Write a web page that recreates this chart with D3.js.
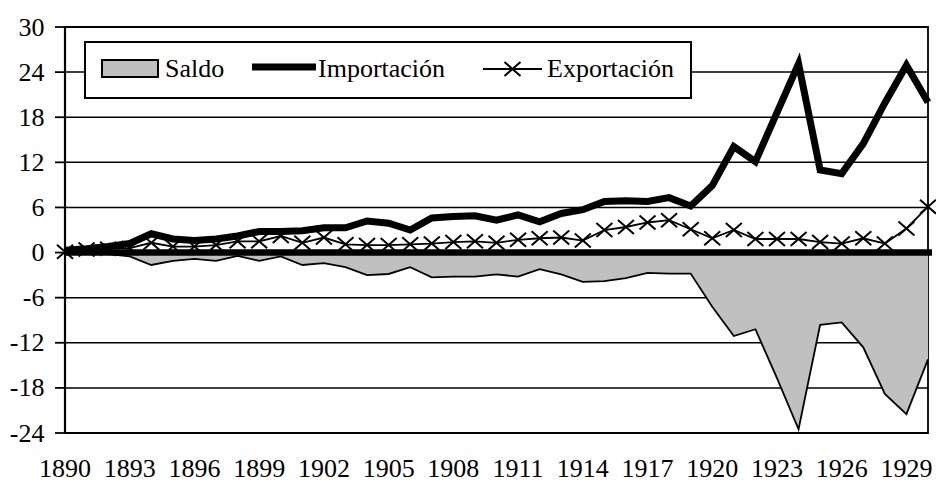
<!DOCTYPE html>
<html>
<head>
<meta charset="utf-8">
<script src="https://cdn.jsdelivr.net/npm/d3@7"></script>
<style>
  html, body { margin: 0; padding: 0; background: #ffffff; }
  svg { display: block; }
  text { font-family: "Liberation Serif", "Times New Roman", serif; fill: #000; }
</style>
</head>
<body>
<svg id="chart" width="936" height="483"></svg>
<script>
// ---- data ----
const years = d3.range(1890, 1931);
const importacion = [0.3, 0.5, 0.8, 1.2, 2.5, 1.8, 1.6, 1.8, 2.2, 2.8,
                     2.8, 2.9, 3.3, 3.3, 4.2, 3.9, 3.0, 4.6, 4.8, 4.9,
                     4.3, 5.0, 4.1, 5.2, 5.7, 6.8, 6.9, 6.8, 7.3, 6.2,
                     8.9, 14.1, 12.1, 18.6, 25.1, 11.0, 10.5, 14.5, 19.9, 24.9,
                     20.0];
const exportacion = [0.1, 0.4, 0.5, 0.6, 1.3, 0.8, 0.8, 1.0, 1.5, 1.5,
                     2.2, 1.3, 2.0, 1.1, 1.0, 1.0, 1.1, 1.2, 1.4, 1.5,
                     1.3, 1.7, 1.9, 2.0, 1.6, 3.0, 3.4, 4.0, 4.3, 3.1,
                     1.9, 3.0, 1.8, 1.8, 1.8, 1.4, 1.2, 1.9, 1.2, 3.2,
                     6.1];
const saldo = [-0.1, -0.2, -0.2, -0.5, -1.65, -1.1, -0.85, -1.1, -0.45, -1.1,
               -0.5, -1.65, -1.4, -1.95, -3.0, -2.85, -1.95, -3.3, -3.2, -3.2,
               -2.9, -3.2, -2.2, -2.9, -3.9, -3.8, -3.4, -2.7, -2.8, -2.8,
               -7.2, -11.1, -10.2, -16.7, -23.5, -9.6, -9.3, -12.6, -18.8, -21.5,
               -14.2];
const yTicks = [30, 24, 18, 12, 6, 0, -6, -12, -18, -24];
const xTickYears = [1890, 1893, 1896, 1899, 1902, 1905, 1908, 1911, 1914, 1917, 1920, 1923, 1926, 1929];
const seriesNames = ["Saldo", "Importación", "Exportación"];

// ---- layout ----
const svg = d3.select("#chart");
const pLeft = 65, pRight = 928, pTop = 27, pBottom = 433;
const x = d3.scaleLinear().domain([1890, 1930]).range([pLeft, pRight]);
const y = d3.scaleLinear().domain([-24, 30]).range([pBottom, pTop]);
const FS = 26;

// gridlines
svg.append("g").selectAll("line")
  .data(yTicks.filter(v => v !== 0 && v !== 30 && v !== -24))
  .join("line")
  .attr("x1", pLeft).attr("x2", pRight)
  .attr("y1", d => y(d)).attr("y2", d => y(d))
  .attr("stroke", "#000").attr("stroke-width", 1.5);

// plot border (top, right, bottom)
svg.append("path")
  .attr("d", `M${pLeft},${y(30)}H${pRight}V${y(-24)}H${pLeft}`)
  .attr("fill", "none").attr("stroke", "#000").attr("stroke-width", 1.8);

// saldo area
const idx = d3.range(years.length);
const area = d3.area()
  .x(i => x(years[i])).y0(y(0)).y1(i => y(saldo[i]));
svg.append("path").datum(idx)
  .attr("d", area).attr("fill", "#c0c0c0").attr("stroke", "none");
const saldoLine = d3.line().x(i => x(years[i])).y(i => y(saldo[i]));
svg.append("path").datum(idx)
  .attr("d", saldoLine).attr("fill", "none")
  .attr("stroke", "#000").attr("stroke-width", 1.8).attr("stroke-linejoin", "miter");

// thick zero line
svg.append("line")
  .attr("x1", pLeft).attr("x2", pRight + 4)
  .attr("y1", y(0)).attr("y2", y(0))
  .attr("stroke", "#000").attr("stroke-width", 6.5);

// y axis
const yAxis = svg.append("g");
yAxis.append("line")
  .attr("x1", pLeft).attr("x2", pLeft).attr("y1", y(30)).attr("y2", y(-24))
  .attr("stroke", "#000").attr("stroke-width", 2.2);
yAxis.selectAll("line.tick").data(yTicks).join("line").attr("class", "tick")
  .attr("x1", pLeft - 10).attr("x2", pLeft)
  .attr("y1", d => y(d)).attr("y2", d => y(d))
  .attr("stroke", "#000").attr("stroke-width", 1.8);
yAxis.selectAll("text").data(yTicks).join("text")
  .attr("x", 44.5).attr("y", d => y(d) + 8.5)
  .attr("text-anchor", "end").attr("font-size", FS)
  .text(d => d);

// x labels
svg.append("g").selectAll("text").data(xTickYears).join("text")
  .attr("x", d => x(d)).attr("y", 477)
  .attr("text-anchor", "middle").attr("font-size", FS)
  .text(d => d);

// importacion line
const impLine = d3.line().x(i => x(years[i])).y(i => y(importacion[i]));
svg.append("path").datum(idx)
  .attr("d", impLine).attr("fill", "none")
  .attr("stroke", "#000").attr("stroke-width", 7).attr("stroke-linejoin", "miter");

// exportacion line + markers
const expLine = d3.line().x(i => x(years[i])).y(i => y(exportacion[i]));
svg.append("path").datum(idx)
  .attr("d", expLine).attr("fill", "none")
  .attr("stroke", "#000").attr("stroke-width", 1.8);
function xMarker(g, cx, cy) {
  const w = 8, h = 7;
  g.append("path")
    .attr("d", `M${cx - w},${cy - h}L${cx + w},${cy + h}M${cx - w},${cy + h}L${cx + w},${cy - h}`)
    .attr("stroke", "#000").attr("stroke-width", 2).attr("fill", "none");
}
const mk = svg.append("g");
idx.forEach(i => xMarker(mk, x(years[i]), y(exportacion[i])));

// legend
const lg = svg.append("g");
lg.append("rect").attr("x", 85).attr("y", 42).attr("width", 606).attr("height", 56)
  .attr("fill", "#fff").attr("stroke", "#000").attr("stroke-width", 2);
lg.append("rect").attr("x", 102).attr("y", 60).attr("width", 56).attr("height", 17)
  .attr("fill", "#c0c0c0").attr("stroke", "#000").attr("stroke-width", 2);
lg.append("text").attr("x", 165).attr("y", 77).attr("font-size", FS).text(seriesNames[0]);
lg.append("line").attr("x1", 252).attr("x2", 316).attr("y1", 67).attr("y2", 67)
  .attr("stroke", "#000").attr("stroke-width", 7);
lg.append("text").attr("x", 318).attr("y", 77).attr("font-size", FS).text(seriesNames[1]);
lg.append("line").attr("x1", 483).attr("x2", 542).attr("y1", 69).attr("y2", 69)
  .attr("stroke", "#000").attr("stroke-width", 1.8);
xMarker(lg, 512.5, 69);
lg.append("text").attr("x", 547).attr("y", 77).attr("font-size", FS).text(seriesNames[2]);
</script>
</body>
</html>
